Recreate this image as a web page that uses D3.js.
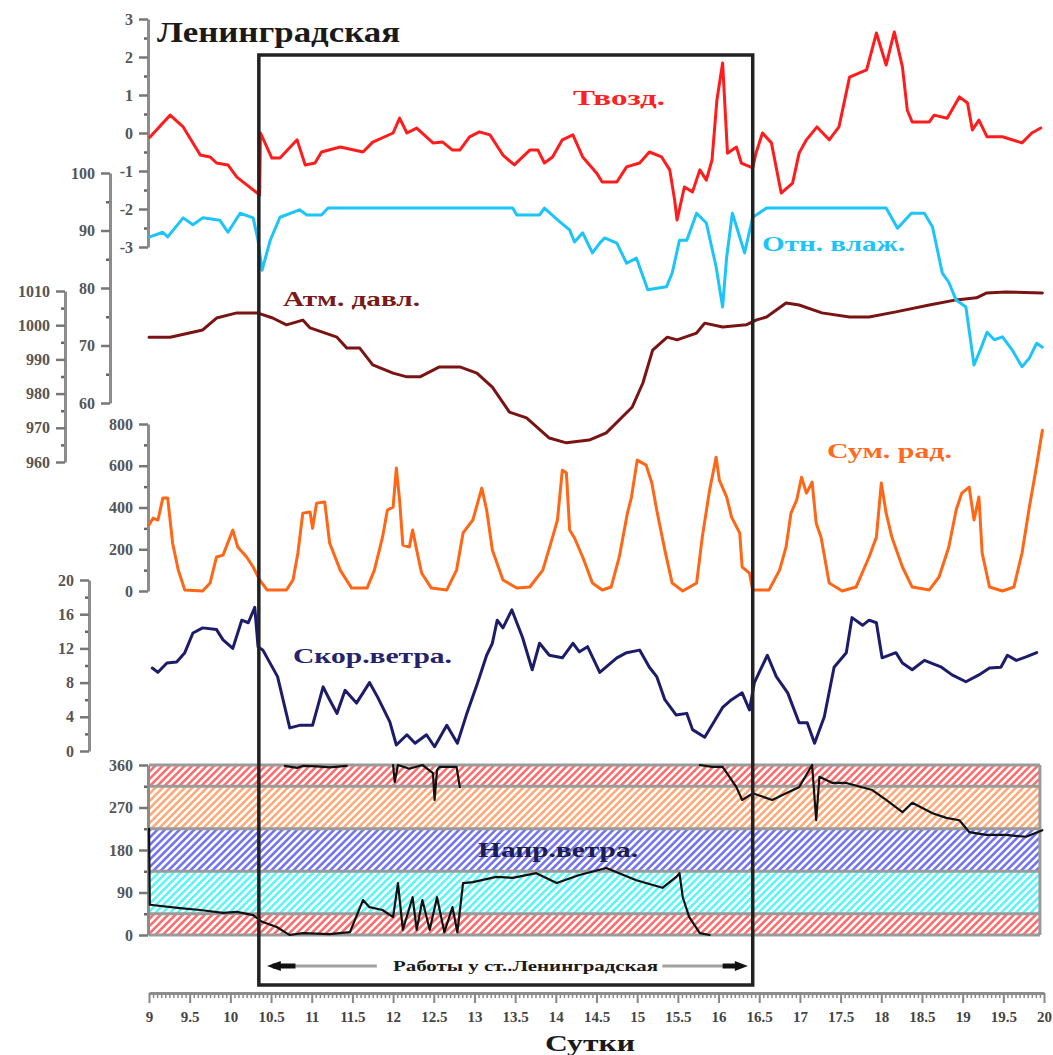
<!DOCTYPE html>
<html><head><meta charset="utf-8">
<script src="https://cdn.jsdelivr.net/npm/d3@7"></script>
<style>
html,body{margin:0;padding:0;background:#fff;}
svg{display:block;}
</style></head>
<body>
<svg id="chart" width="1053" height="1055"></svg>
<script>
// ---------- DATA ----------
const dayTicks = [9,9.5,10,10.5,11,11.5,12,12.5,13,13.5,14,14.5,15,15.5,16,16.5,17,17.5,18,18.5,19,19.5,20];
const tempTicks = [-3,-2,-1,0,1,2,3];
const humTicks = [60,70,80,90,100];
const presTicks = [960,970,980,990,1000,1010];
const radTicks = [0,200,400,600,800];
const windTicks = [0,4,8,12,16,20];
const dirTicks = [0,90,180,270,360];
const dirBands = [[0,45,"red"],[45,135,"cyan"],[135,225,"blue"],[225,315,"orange"],[315,360,"red"]];
const workPeriod = [10.35, 16.42];

const temperature = [[9.01,-0.11],[9.26,0.47],[9.42,0.16],[9.63,-0.58],[9.75,-0.63],[9.83,-0.79],[9.97,-0.84],[10.08,-1.16],[10.33,-1.58],[10.36,-1.63],[10.37,0],
[10.51,-0.66],[10.61,-0.66],[10.82,-0.18],[10.92,-0.84],[11.04,-0.79],[11.12,-0.5],[11.35,-0.37],[11.63,-0.5],[11.75,-0.24],[12.0,0],[12.08,0.39],[12.17,0],[12.29,0.13],
[12.49,-0.26],[12.61,-0.24],[12.73,-0.45],[12.82,-0.45],[12.94,-0.1],[13.06,0.03],[13.19,-0.05],[13.35,-0.58],[13.49,-0.84],[13.68,-0.45],[13.78,-0.45],[13.86,-0.79],
[13.96,-0.63],[14.08,-0.18],[14.21,-0.05],[14.33,-0.63],[14.5,-1.05],[14.57,-1.29],[14.75,-1.29],[14.87,-0.89],[15.03,-0.79],[15.15,-0.5],[15.3,-0.63],[15.4,-0.97],
[15.46,-1.76],[15.49,-2.29],[15.58,-1.42],[15.68,-1.55],[15.77,-0.97],[15.85,-1.24],[15.92,-0.71],[15.98,0.87],[16.05,1.84],[16.11,-0.53],[16.22,-0.37],[16.28,-0.79],
[16.42,-0.92],[16.46,-0.53],[16.54,0],[16.65,-0.26],[16.77,-1.58],[16.91,-1.32],[16.99,-0.53],[17.08,-0.18],[17.21,0.16],[17.36,-0.18],[17.48,0.16],[17.61,1.47],
[17.82,1.66],[17.94,2.63],[18.06,1.79],[18.16,2.66],[18.26,1.74],[18.32,0.6],[18.38,0.29],[18.59,0.29],[18.65,0.47],[18.81,0.39],[18.96,0.95],[19.06,0.79],[19.12,0.08],
[19.2,0.34],[19.3,-0.1],[19.49,-0.1],[19.73,-0.26],[19.85,0],[19.96,0.13]];

const humidity = [[9.01,88.9],[9.17,89.7],[9.23,88.9],[9.42,92.2],[9.54,91.0],[9.66,92.2],[9.87,91.8],[9.97,89.7],[10.12,93.0],[10.28,92.2],[10.34,88.3],[10.39,83.1],
[10.49,88.3],[10.61,92.3],[10.85,93.6],[10.94,92.7],[11.12,92.7],[11.2,93.9],[13.47,93.9],[13.52,92.7],[13.8,92.7],[13.86,93.9],[14.05,91.5],[14.17,90.1],[14.23,88.0],
[14.33,89.6],[14.45,86.1],[14.54,87.8],[14.6,88.7],[14.75,87.8],[14.87,84.3],[14.99,85.2],[15.13,79.7],[15.36,80.2],[15.43,82.6],[15.52,88.3],[15.61,88.3],[15.73,93.0],
[15.85,91.3],[15.97,83.7],[16.05,76.7],[16.1,85.4],[16.17,93.0],[16.32,86.1],[16.42,92.3],[16.59,93.9],[18.06,93.9],[18.2,90.4],[18.37,93.0],[18.53,93.0],[18.63,90.6],
[18.75,82.6],[18.83,81.0],[18.92,77.9],[19.04,76.7],[19.14,66.6],[19.23,69.7],[19.3,72.3],[19.39,71.0],[19.49,71.5],[19.61,69.2],[19.73,66.3],[19.82,67.8],[19.91,70.4],[19.98,69.7]];

const pressure = [[9.0,996.5],[9.26,996.5],[9.66,998.6],[9.83,1002.1],[10.08,1003.6],[10.33,1003.6],[10.52,1002.1],[10.69,1000.1],[10.89,1001.5],[10.98,999.2],
[11.31,996.5],[11.43,993.3],[11.59,993.3],[11.75,988.4],[12.0,986.0],[12.17,984.9],[12.33,984.9],[12.57,987.8],[12.82,987.8],[13.03,986.0],[13.22,981.9],[13.43,974.6],
[13.64,972.9],[13.92,967.0],[14.13,965.6],[14.41,966.4],[14.62,968.5],[14.94,976.1],[15.07,983.1],[15.19,992.7],[15.37,996.5],[15.49,995.7],[15.73,997.7],[15.83,1000.6],
[16.05,999.5],[16.34,1000.1],[16.46,1001.5],[16.59,1002.4],[16.83,1006.5],[16.99,1005.9],[17.27,1003.6],[17.61,1002.4],[17.85,1002.4],[18.18,1003.9],[18.59,1005.9],
[18.92,1007.4],[19.17,1008.0],[19.29,1009.4],[19.53,1009.7],[19.98,1009.4]];

const radiation = [[9.0,316],[9.05,349],[9.11,340],[9.17,445],[9.23,445],[9.29,230],[9.36,100],[9.44,5],[9.66,0],[9.75,38],[9.83,163],[9.91,172],[10.03,292],[10.09,211],
[10.2,163],[10.28,115],[10.36,53],[10.45,5],[10.69,5],[10.77,53],[10.83,182],[10.89,373],[10.98,378],[11.01,301],[11.06,421],[11.16,426],[11.22,230],[11.35,100],
[11.49,14],[11.68,14],[11.77,100],[11.87,258],[11.93,388],[12.0,402],[12.04,589],[12.08,435],[12.12,220],[12.2,211],[12.24,292],[12.29,196],[12.35,86],[12.47,14],
[12.66,5],[12.78,100],[12.86,278],[12.98,340],[13.09,493],[13.15,388],[13.22,196],[13.35,53],[13.52,14],[13.68,19],[13.84,100],[13.96,258],[14.02,340],[14.08,579],
[14.13,565],[14.17,292],[14.23,254],[14.33,163],[14.45,38],[14.57,5],[14.68,19],[14.78,163],[14.88,373],[14.93,450],[15.0,627],[15.11,603],[15.18,517],[15.24,388],
[15.34,196],[15.43,38],[15.56,0],[15.73,38],[15.8,258],[15.89,483],[15.97,641],[16.01,531],[16.1,450],[16.16,354],[16.26,278],[16.29,115],[16.38,86],[16.42,5],
[16.62,5],[16.75,100],[16.83,211],[16.89,373],[16.96,435],[17.02,545],[17.08,469],[17.12,498],[17.15,522],[17.2,325],[17.26,258],[17.36,38],[17.52,0],[17.69,19],
[17.85,163],[17.94,258],[18.0,517],[18.06,373],[18.13,258],[18.26,115],[18.38,19],[18.59,5],[18.71,67],[18.83,211],[18.92,388],[18.99,469],[19.08,498],[19.14,340],
[19.2,450],[19.24,182],[19.33,19],[19.49,0],[19.63,19],[19.73,182],[19.82,402],[19.9,579],[19.98,770]];

const windSpeed = [[9.04,9.7],[9.11,9.2],[9.22,10.3],[9.34,10.4],[9.44,11.5],[9.54,13.8],[9.66,14.4],[9.83,14.2],[9.91,13.0],[10.03,12.0],[10.14,15.3],[10.22,15.0],
[10.3,16.8],[10.34,12.2],[10.4,11.8],[10.58,8.7],[10.73,2.7],[10.85,3.0],[11.01,3.0],[11.14,7.5],[11.22,6.0],[11.31,4.4],[11.41,7.1],[11.55,5.6],[11.71,8.0],[11.81,6.3],
[11.96,3.4],[12.04,0.7],[12.17,1.9],[12.27,0.9],[12.41,1.9],[12.51,0.5],[12.66,3.0],[12.79,0.9],[12.9,4.2],[13.04,8.0],[13.15,11.2],[13.22,12.6],[13.28,15.3],[13.35,14.4],
[13.46,16.5],[13.59,13.3],[13.71,9.5],[13.8,12.6],[13.92,11.2],[14.08,10.9],[14.21,12.6],[14.29,11.6],[14.39,12.2],[14.54,9.2],[14.75,10.9],[14.87,11.5],[15.03,11.8],
[15.15,9.8],[15.24,8.7],[15.34,6.0],[15.48,4.2],[15.61,4.4],[15.68,2.5],[15.83,1.6],[16.05,5.1],[16.16,6.0],[16.29,6.8],[16.38,4.8],[16.44,8.0],[16.6,11.2],[16.71,8.7],
[16.85,6.8],[16.99,3.3],[17.09,3.3],[17.18,0.9],[17.3,4.0],[17.42,9.8],[17.57,11.5],[17.64,15.6],[17.77,14.7],[17.85,15.3],[17.94,15.0],[18.01,10.9],[18.18,11.5],
[18.26,10.3],[18.38,9.5],[18.53,10.6],[18.74,9.8],[18.87,8.9],[19.04,8.1],[19.2,8.9],[19.33,9.7],[19.47,9.8],[19.55,11.2],[19.66,10.6],[19.78,11.0],[19.91,11.5]];

// wind direction, null = gap (wrap-around 360/0)
const windDir = [[9.0,225],[9.01,64],[9.38,57],[9.63,53],[9.91,47],[10.08,49],[10.28,42],[10.39,28],[10.57,17],[10.69,4],[10.73,0],[10.89,4],[11.22,2],[11.47,6],
[11.63,74],[11.71,59],[11.87,53],[12.0,38],[12.06,110],[12.12,11],[12.24,80],[12.29,11],[12.36,74],[12.45,11],[12.54,80],[12.63,6],[12.73,59],[12.79,6],[12.86,110],
[12.98,112],[13.27,123],[13.47,121],[13.76,131],[14.01,110],[14.29,127],[14.62,142],[14.99,116],[15.31,100],[15.48,123],[15.52,131],[15.56,80],[15.64,38],[15.77,4],[15.89,0],
null,
[10.67,358],[10.82,354],[10.89,358],[11.06,357],[11.22,355],[11.43,358],
null,
[12.0,360],[12.02,324],[12.06,360],[12.2,352],[12.36,360],[12.49,343],[12.51,286],[12.54,349],[12.57,356],[12.78,356],[12.82,313],
null,
[15.77,360],[15.92,356],[16.05,356],[16.22,313],[16.29,286],[16.42,300],[16.66,286],[16.83,300],[16.99,313],[17.15,360],[17.2,243],[17.24,335],[17.4,322],[17.57,322],
[17.89,307],[18.06,286],[18.26,260],[18.38,280],[18.63,258],[18.8,248],[18.96,243],[19.08,218],[19.29,212],[19.53,212],[19.78,208],[19.98,222]];

// ---------- CHART ----------
const svg = d3.select("#chart");
const x = d3.scaleLinear().domain([9,20]).range([149,1044]);
const yT = d3.scaleLinear().domain([-3,3]).range([247,19]);
const yH = d3.scaleLinear().domain([60,100]).range([403,173]);
const yP = d3.scaleLinear().domain([960,1010]).range([462,291]);
const yR = d3.scaleLinear().domain([0,800]).range([591,424]);
const yW = d3.scaleLinear().domain([0,20]).range([751,580]);
const yD = d3.scaleLinear().domain([0,360]).range([935,765]);

const serif = "'Liberation Serif','DejaVu Serif',serif";

// hatch patterns
const bandColors = {red:"#ff6e6e", cyan:"#5cf6f6", blue:"#7474f4", orange:"#ffaa78"};
const defs = svg.append("defs");
Object.entries(bandColors).forEach(([k,c])=>{
  const p = defs.append("pattern").attr("id","hatch-"+k).attr("patternUnits","userSpaceOnUse")
    .attr("width",5.2).attr("height",5.2).attr("patternTransform","rotate(45)");
  p.append("rect").attr("width",5.2).attr("height",5.2).attr("fill","#fff");
  p.append("rect").attr("width",2.6).attr("height",5.2).attr("fill",c);
});

const panelRight = x(19.95);
svg.append("g").selectAll("rect").data(dirBands).join("rect")
  .attr("x",x(9)).attr("width",panelRight-x(9))
  .attr("y",d=>yD(d[1])).attr("height",d=>yD(d[0])-yD(d[1]))
  .attr("fill",d=>`url(#hatch-${d[2]})`);
const borderVals = [0,45,135,225,315,360];
svg.append("g").selectAll("line").data(borderVals).join("line")
  .attr("x1",x(9)).attr("x2",panelRight).attr("y1",d=>yD(d)).attr("y2",d=>yD(d))
  .attr("stroke","#9a9a9a").attr("stroke-width",3);
svg.append("line").attr("x1",panelRight).attr("x2",panelRight).attr("y1",yD(360)).attr("y2",yD(0))
  .attr("stroke","#9a9a9a").attr("stroke-width",3);

// axes helper
function leftAxis(scale, xpos, ticks, minorStep){
  const g = svg.append("g").attr("transform",`translate(${xpos},0)`);
  const dom = scale.domain();
  const minor = d3.range(dom[0], dom[1]+1e-9, minorStep).filter(v=>!ticks.includes(v));
  g.append("g").call(d3.axisLeft(scale).tickValues(minor).tickSize(4).tickSizeOuter(0).tickFormat(""))
    .call(a=>a.select(".domain").remove())
    .call(a=>a.selectAll("line").attr("stroke","#666").attr("stroke-width",2.5));
  g.append("g").call(d3.axisLeft(scale).tickValues(ticks).tickSize(9).tickSizeOuter(0).tickPadding(6)
      .tickFormat(d=>String(d)))
    .call(a=>a.select(".domain").attr("stroke","#8c8c8c").attr("stroke-width",3))
    .call(a=>a.selectAll("line").attr("stroke","#777").attr("stroke-width",2.5))
    .call(a=>a.selectAll("text").attr("font-family",serif).attr("font-weight","bold")
       .attr("font-size",16).attr("fill","#555"));
  return g;
}
leftAxis(yT,148,tempTicks,0.5);
leftAxis(yH,110,humTicks,5);
leftAxis(yP,65,presTicks,5);
leftAxis(yR,148,radTicks,100);
leftAxis(yW,89,windTicks,2);
leftAxis(yD,148,dirTicks,45);

// bottom axis
const axY = 993;
const minorDays = d3.range(9,20.0001,0.05).map(v=>+v.toFixed(2)).filter(v=>Math.abs(v*2-Math.round(v*2))>1e-6);
svg.append("g").attr("transform",`translate(0,${axY})`)
  .call(d3.axisBottom(x).tickValues(minorDays).tickSize(5).tickSizeOuter(0).tickFormat(""))
  .call(a=>a.select(".domain").remove())
  .call(a=>a.selectAll("line").attr("stroke","#888").attr("stroke-width",1.5));
svg.append("g").attr("transform",`translate(0,${axY})`)
  .call(d3.axisBottom(x).tickValues(dayTicks).tickSize(10).tickSizeOuter(0).tickPadding(8).tickFormat(d=>String(d)))
  .call(a=>a.select(".domain").attr("stroke","#8c8c8c").attr("stroke-width",3))
  .call(a=>a.selectAll("line").attr("stroke","#888").attr("stroke-width",2))
  .call(a=>a.selectAll("text").attr("font-family",serif).attr("font-weight","bold")
     .attr("font-size",15).attr("fill","#444"));

// series
function drawLine(data, yScale, color, width){
  svg.append("path").datum(data)
    .attr("d", d3.line().defined(d=>d!==null).x(d=>x(d[0])).y(d=>yScale(d[1])))
    .attr("fill","none").attr("stroke",color).attr("stroke-width",width)
    .attr("stroke-linejoin","round").attr("stroke-linecap","round");
}
drawLine(windDir, yD, "#111", 2.2);
drawLine(pressure, yP, "#7a1414", 3);
drawLine(humidity, yH, "#1cc4fa", 3);
drawLine(temperature, yT, "#ff1c1c", 3);
drawLine(radiation, yR, "#ff6616", 3);
drawLine(windSpeed, yW, "#1c1c6a", 3);

// work period box
svg.append("rect").attr("x",x(workPeriod[0])).attr("y",55)
  .attr("width",x(workPeriod[1])-x(workPeriod[0])).attr("height",985-55)
  .attr("fill","none").attr("stroke","#222").attr("stroke-width",3.5);

// arrows
const arY = 966;
svg.append("line").attr("x1",x(10.6)).attr("x2",x(11.8)).attr("y1",arY).attr("y2",arY).attr("stroke","#a0a0a0").attr("stroke-width",3);
svg.append("line").attr("x1",x(10.52)).attr("x2",x(10.8)).attr("y1",arY).attr("y2",arY).attr("stroke","#111").attr("stroke-width",5);
svg.append("path").attr("d",`M${x(10.45)},${arY} L${x(10.62)},${arY-5} L${x(10.62)},${arY+5} Z`).attr("fill","#111");
svg.append("line").attr("x1",x(15.31)).attr("x2",x(16.1)).attr("y1",arY).attr("y2",arY).attr("stroke","#a0a0a0").attr("stroke-width",3);
svg.append("line").attr("x1",x(16.05)).attr("x2",x(16.25)).attr("y1",arY).attr("y2",arY).attr("stroke","#111").attr("stroke-width",5);
svg.append("path").attr("d",`M${x(16.36)},${arY} L${x(16.2)},${arY-5} L${x(16.2)},${arY+5} Z`).attr("fill","#111");

// texts
function label(txt, xx, yy, size, color, len){
  const t = svg.append("text").attr("x",xx).attr("y",yy).text(txt)
    .attr("font-family",serif).attr("font-weight","bold").attr("font-size",size).attr("fill",color);
  if(len) t.attr("textLength",len).attr("lengthAdjust","spacingAndGlyphs");
  return t;
}
label("Ленинградская",157,42,30,"#1a1a1a",243);
label("Твозд.",573,105,21,"#ff2020",92);
label("Отн. влаж.",762,251,21,"#1cc4fa",143);
label("Атм. давл.",283,306,21,"#7a1a1a",137);
label("Сум. рад.",827,458,21,"#ff6a20",125);
label("Скор.ветра.",293,663,21,"#24246e",159);
label("Напр.ветра.",478,857,21,"#1e1e4e",160);
label("Работы у ст..Ленинградская",393,971,15,"#1a1a1a",265);
label("Сутки",545,1051,23,"#1a1a1a",90);
</script>
</body></html>
